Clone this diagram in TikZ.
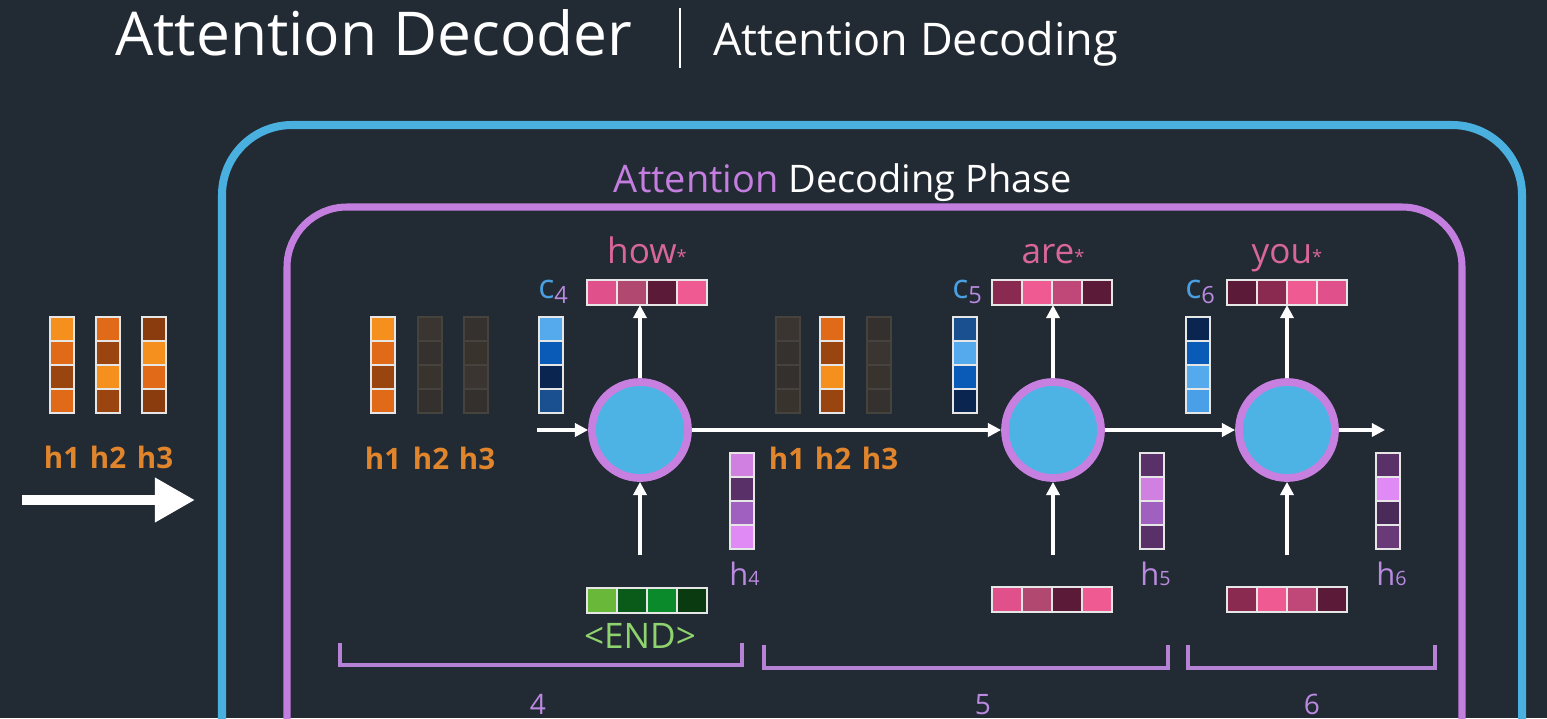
\documentclass[tikz,border=0pt]{standalone}
\usepackage{fontspec}
\setmainfont{Open Sans}
\usetikzlibrary{arrows.meta, positioning}

\definecolor{bg}{HTML}{222A33}
\definecolor{boxbl}{HTML}{4AB0E0}
\definecolor{boxvi}{HTML}{C47EE0}
\definecolor{core}{HTML}{4DB3E4}
\definecolor{rimvi}{HTML}{C880E0}
\definecolor{brk}{HTML}{B682D6}
\definecolor{cellln}{HTML}{E6E6E6}
\definecolor{dimln}{HTML}{46423E}
\definecolor{txtpk}{HTML}{D9669A}
\definecolor{txtor}{HTML}{E0852C}
\definecolor{txtbl}{HTML}{4A9FE0}
\definecolor{txtvi}{HTML}{B98AE0}
\definecolor{txtgr}{HTML}{8FD36E}
% cell shades
\definecolor{orL}{HTML}{F5901E}
\definecolor{orM}{HTML}{E06A18}
\definecolor{orD}{HTML}{9A4510}
\definecolor{orK}{HTML}{8A3C0E}
\definecolor{dmA}{HTML}{3A3530}
\definecolor{dmB}{HTML}{35312E}
\definecolor{dmC}{HTML}{39332E}
\definecolor{dmD}{HTML}{34302D}
\definecolor{blL}{HTML}{55AAEE}
\definecolor{blM}{HTML}{0A5AB8}
\definecolor{blD}{HTML}{0A2650}
\definecolor{blN}{HTML}{1A5090}
\definecolor{blP}{HTML}{4AA0E8}
\definecolor{pkA}{HTML}{E0508A}
\definecolor{pkB}{HTML}{B04870}
\definecolor{pkC}{HTML}{5A1A38}
\definecolor{pkD}{HTML}{F05A92}
\definecolor{pkE}{HTML}{8A2A50}
\definecolor{pkF}{HTML}{C04878}
\definecolor{viA}{HTML}{D080E0}
\definecolor{viB}{HTML}{5A3068}
\definecolor{viC}{HTML}{A060C0}
\definecolor{viD}{HTML}{E08AF5}
\definecolor{viE}{HTML}{4A2A58}
\definecolor{viF}{HTML}{6A3A78}
\definecolor{grA}{HTML}{6AB83A}
\definecolor{grB}{HTML}{0A5A1A}
\definecolor{grC}{HTML}{0A8A2A}
\definecolor{grD}{HTML}{0A3A10}

% upright vector: name, left x, top y, colours
\newcommand{\colvec}[5][cell]{%
  \foreach \cc [count=\i] in {#5}
    \node[#1, fill=\cc] (#2-\i) at ({#3+12}, {#4+12+24*(\i-1)}) {};}
% lying vector: name, left x, top y, colours
\newcommand{\rowvec}[4]{%
  \foreach \cc [count=\i] in {#4}
    \node[cell, fill=\cc, minimum width=0.75cm, minimum height=0.625cm]
      (#1-\i) at ({#2+15+30*(\i-1)}, {#3+12.5}) {};}

\begin{document}
\begin{tikzpicture}[
  x=0.025cm, y=-0.025cm,
  cell/.style={draw=cellln, line width=1pt, minimum width=0.6cm,
               minimum height=0.6cm, inner sep=0pt, outer sep=0pt},
  dimcell/.style={cell, draw=dimln},
  rnn/.style={circle, fill=core, draw=rimvi, line width=5.5pt,
              minimum size=2.4cm, inner sep=0pt},
  arr/.style={-{Triangle[length=0.33cm, width=0.33cm]}, white, line width=2.2pt},
  hlab/.style={font=\fontsize{21}{24}\selectfont\bfseries, text=txtor, anchor=base},
  clab/.style={font=\fontsize{24}{28}\selectfont, text=txtbl, anchor=base west, inner sep=0pt},
  slab/.style={font=\fontsize{22}{26}\selectfont, text=txtvi, anchor=base west, inner sep=0pt},
  wlab/.style={font=\fontsize{25}{30}\selectfont, text=txtpk, anchor=base},
  tlab/.style={font=\fontsize{20}{24}\selectfont, text=txtvi, anchor=base, inner sep=0pt},
  brace/.style={draw=brk, line width=3pt}
]
  \fill[bg] (0,0) rectangle (1547,718);
  \clip (0,0) rectangle (1547,718);

  % title
  \node[anchor=base west, text=white, font=\fontsize{43}{50}\selectfont, inner sep=0pt]
    (title) at (115,55) {Attention Decoder};
  \draw[white, line width=1.2pt] (680,8) -- (680,68);
  \node[anchor=base west, text=white, font=\fontsize{32}{38}\selectfont, inner sep=0pt]
    (subtitle) at (713,55) {Attention Decoding};

  % frames
  \draw[boxbl, line width=5.7pt, rounded corners=1.75cm] (222,125) rectangle (1522,820);
  \draw[boxvi, line width=5pt, rounded corners=1.5cm] (287,207) rectangle (1462,820);
  \node[anchor=base, text=white, font=\fontsize{27}{32}\selectfont]
    (phase) at (843,192) {{\color{boxvi}Attention} Decoding Phase};

  % encoder states
  \colvec{eh1}{50}{317}{orL,orM,orD,orM}
  \colvec{eh2}{96}{317}{orM,orD,orL,orD}
  \colvec{eh3}{142}{317}{orK,orL,orM,orK}
  \node[hlab] (el1) at (62,468) {h1};
  \node[hlab] (el2) at (108,468) {h2};
  \node[hlab] (el3) at (155,468) {h3};
  \coordinate (go0) at (22,500);
  \coordinate (go1) at (195,500);
  \draw[white, line width=7pt, -{Triangle[length=1cm, width=1.05cm]}] (go0) -- (go1);

  % step 4
  \colvec{a1}{371}{317}{orL,orM,orD,orM}
  \colvec[dimcell]{a2}{418}{317}{dmA,dmB,dmC,dmD}
  \colvec[dimcell]{a3}{464}{317}{dmB,dmC,dmA,dmD}
  \node[hlab] (al1) at (383,469) {h1};
  \node[hlab] (al2) at (431,469) {h2};
  \node[hlab] (al3) at (477,469) {h3};
  \colvec{c4}{539}{317}{blL,blM,blD,blN}
  \node[clab] (c4l) at (538,298) {c{\color{txtvi}\textsubscript{4}}};
  \rowvec{how}{587}{280}{pkA,pkB,pkC,pkD}
  \node[wlab] (howl) at (647,263) {how{\fontsize{13}{13}\selectfont*}};
  \node[rnn] (rnn4) at (640,430) {};
  \colvec{h4}{730}{453}{viA,viB,viC,viD}
  \node[slab] (h4l) at (729,585) {h{\fontsize{14}{14}\selectfont 4}};
  \rowvec{endv}{587}{588}{grA,grB,grC,grD}
  \node[anchor=base, text=txtgr, font=\fontsize{25}{30}\selectfont] (endl) at (640,648) {<END>};

  % step 5
  \colvec[dimcell]{b1}{776}{317}{dmA,dmB,dmD,dmC}
  \colvec{b2}{820}{317}{orM,orD,orL,orD}
  \colvec[dimcell]{b3}{867}{317}{dmD,dmA,dmC,dmB}
  \node[hlab] (bl1) at (787,469) {h1};
  \node[hlab] (bl2) at (833,469) {h2};
  \node[hlab] (bl3) at (880,469) {h3};
  \colvec{c5}{953}{317}{blN,blL,blM,blD}
  \node[clab] (c5l) at (952,298) {c{\color{txtvi}\textsubscript{5}}};
  \rowvec{are}{992}{280}{pkE,pkD,pkF,pkC}
  \node[wlab] (arel) at (1053,263) {are{\fontsize{13}{13}\selectfont*}};
  \node[rnn] (rnn5) at (1053,430) {};
  \colvec{h5}{1140}{453}{viB,viA,viC,viB}
  \node[slab] (h5l) at (1140,585) {h{\fontsize{14}{14}\selectfont 5}};
  \rowvec{in5}{992}{587}{pkA,pkB,pkC,pkD}

  % step 6
  \colvec{c6}{1186}{317}{blD,blM,blL,blP}
  \node[clab] (c6l) at (1185,298) {c{\color{txtvi}\textsubscript{6}}};
  \rowvec{you}{1227}{280}{pkC,pkE,pkD,pkA}
  \node[wlab] (youl) at (1287,263) {you{\fontsize{13}{13}\selectfont*}};
  \node[rnn] (rnn6) at (1287,430) {};
  \colvec{h6}{1376}{453}{viB,viD,viE,viF}
  \node[slab] (h6l) at (1376,585) {h{\fontsize{14}{14}\selectfont 6}};
  \rowvec{in6}{1227}{587}{pkE,pkD,pkF,pkC}

  % connectors
  \coordinate (in4) at (537,430);
  \coordinate (out6) at (1385,430);
  \coordinate (x4) at (640,555);
  \coordinate (x5) at (1053,555);
  \coordinate (x6) at (1287,555);
  \draw[arr] (in4) -- (rnn4);
  \draw[arr] (rnn4) -- (rnn5);
  \draw[arr] (rnn5) -- (rnn6);
  \draw[arr] (rnn6) -- (out6);
  \draw[arr] (rnn4) -- (rnn4 |- how-1.south);
  \draw[arr] (rnn5) -- (rnn5 |- are-1.south);
  \draw[arr] (rnn6) -- (rnn6 |- you-1.south);
  \draw[arr] (x4) -- (rnn4);
  \draw[arr] (x5) -- (rnn5);
  \draw[arr] (x6) -- (rnn6);

  % time steps
  \draw[brace] (340,643) |- (742,665) -- (742,643);
  \draw[brace] (764,645) |- (1168,668) -- (1168,645);
  \draw[brace] (1188,645) |- (1435,668) -- (1435,645);
  \node[tlab] (t4) at (538,714) {4};
  \node[tlab] (t5) at (983,714) {5};
  \node[tlab] (t6) at (1312,714) {6};
\end{tikzpicture}
\end{document}
